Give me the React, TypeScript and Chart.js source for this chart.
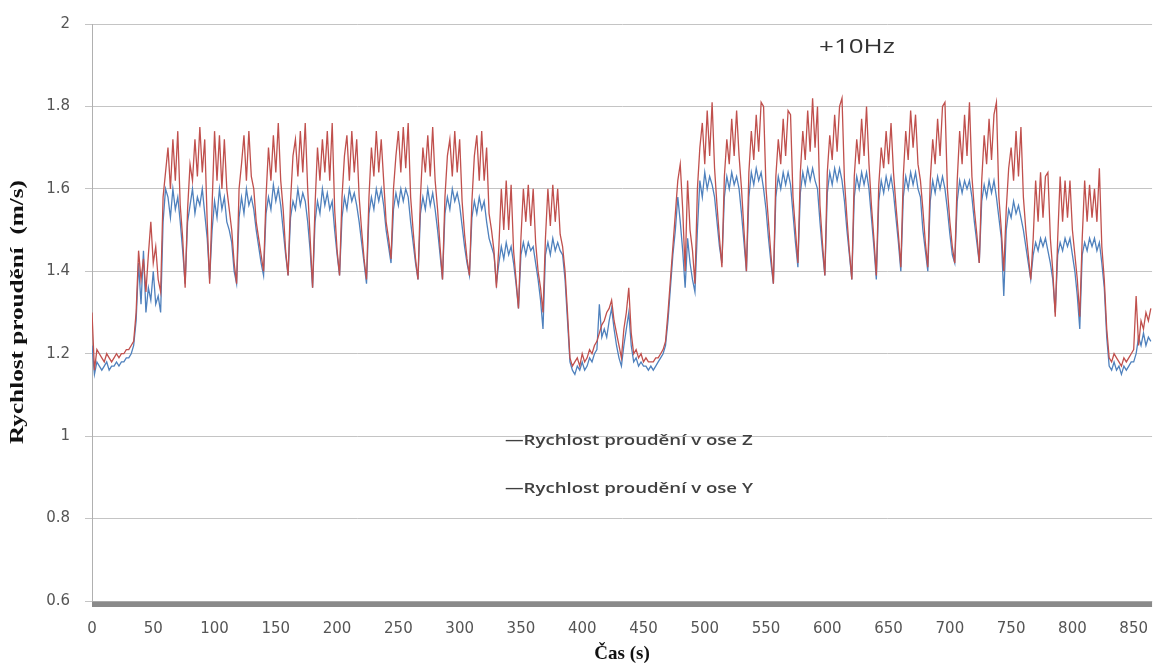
import React, { useEffect, useRef } from 'react';
import { Chart, registerables } from 'chart.js';

Chart.register(...registerables);

// sampling step of the recorded series (seconds)
const TIME_STEP = 2;

// Rychlost proudění v ose Z (m/s), one value every TIME_STEP seconds from 0 s
const Z_SPEED = [
  1.22, 1.15, 1.18, 1.17, 1.16, 1.17, 1.18, 1.16, 1.17, 1.17,
  1.18, 1.17, 1.18, 1.18, 1.19, 1.19, 1.20, 1.22, 1.28, 1.42,
  1.32, 1.45, 1.30, 1.36, 1.33, 1.40, 1.32, 1.34, 1.30, 1.52,
  1.60, 1.58, 1.53, 1.60, 1.55, 1.58, 1.52, 1.45, 1.37, 1.52,
  1.56, 1.60, 1.54, 1.58, 1.56, 1.60, 1.54, 1.48, 1.38, 1.50,
  1.57, 1.53, 1.60, 1.55, 1.58, 1.52, 1.50, 1.47, 1.40, 1.37,
  1.53, 1.58, 1.54, 1.60, 1.56, 1.58, 1.55, 1.50, 1.46, 1.42,
  1.39, 1.54, 1.58, 1.55, 1.61, 1.57, 1.60, 1.56, 1.50, 1.44,
  1.39, 1.53, 1.57, 1.55, 1.60, 1.56, 1.59, 1.57, 1.52, 1.45,
  1.36, 1.52, 1.57, 1.54, 1.60, 1.56, 1.59, 1.55, 1.57, 1.50,
  1.44, 1.39, 1.53, 1.58, 1.55, 1.60, 1.57, 1.59, 1.56, 1.52,
  1.47, 1.42, 1.37, 1.54, 1.58, 1.55, 1.60, 1.57, 1.60, 1.56,
  1.50, 1.46, 1.42, 1.55, 1.59, 1.56, 1.60, 1.57, 1.60, 1.58,
  1.52, 1.47, 1.42, 1.38, 1.54, 1.58, 1.55, 1.60, 1.56, 1.59,
  1.55, 1.50, 1.44, 1.38, 1.54, 1.58, 1.55, 1.60, 1.57, 1.59,
  1.56, 1.51, 1.46, 1.42, 1.39, 1.53, 1.57, 1.54, 1.58, 1.55,
  1.57, 1.52, 1.48, 1.46, 1.44, 1.37, 1.42, 1.46, 1.43, 1.47,
  1.44, 1.46, 1.42, 1.37, 1.31, 1.44, 1.47, 1.44, 1.47, 1.45,
  1.46, 1.42, 1.38, 1.33, 1.26, 1.44, 1.47, 1.44, 1.48, 1.45,
  1.47, 1.45, 1.44, 1.38, 1.28, 1.18, 1.16, 1.15, 1.17, 1.16,
  1.18, 1.16, 1.17, 1.19, 1.18, 1.20, 1.21, 1.32, 1.24, 1.26,
  1.24, 1.28, 1.31, 1.26, 1.22, 1.19, 1.17, 1.22, 1.26, 1.30,
  1.22, 1.18, 1.19, 1.17, 1.18, 1.17, 1.17, 1.16, 1.17, 1.16,
  1.17, 1.18, 1.19, 1.20, 1.22, 1.28, 1.36, 1.44, 1.50, 1.58,
  1.52, 1.45, 1.36, 1.48, 1.42, 1.38, 1.35, 1.50, 1.62, 1.58,
  1.64, 1.60, 1.63, 1.61, 1.58, 1.52, 1.46, 1.42, 1.58, 1.63,
  1.60, 1.64, 1.61, 1.63, 1.60, 1.54, 1.47, 1.40, 1.58, 1.64,
  1.61, 1.65, 1.62, 1.64, 1.60, 1.55, 1.48, 1.42, 1.37, 1.58,
  1.63, 1.60, 1.64, 1.61, 1.64, 1.61, 1.54, 1.47, 1.41, 1.59,
  1.64, 1.61, 1.65, 1.62, 1.65, 1.62, 1.60, 1.52, 1.45, 1.39,
  1.59, 1.64, 1.61, 1.65, 1.62, 1.65, 1.62, 1.57, 1.50, 1.44,
  1.38, 1.58, 1.63, 1.60, 1.64, 1.61, 1.64, 1.60, 1.53, 1.46,
  1.38, 1.57, 1.62, 1.59, 1.63, 1.60, 1.63, 1.59, 1.53, 1.47,
  1.40, 1.58, 1.63, 1.60, 1.64, 1.61, 1.64, 1.60, 1.58, 1.50,
  1.45, 1.40, 1.57, 1.62, 1.59, 1.63, 1.60, 1.63, 1.60, 1.55,
  1.49, 1.44, 1.42, 1.57, 1.62, 1.59, 1.62, 1.60, 1.62, 1.58,
  1.52, 1.47, 1.42, 1.57, 1.61, 1.58, 1.62, 1.59, 1.62, 1.58,
  1.53, 1.48, 1.34, 1.50, 1.55, 1.53, 1.57, 1.54, 1.56, 1.53,
  1.50, 1.46, 1.42, 1.38, 1.44, 1.47, 1.45, 1.48, 1.46, 1.48,
  1.45, 1.42, 1.38, 1.30, 1.44, 1.47, 1.45, 1.48, 1.46, 1.48,
  1.44, 1.40, 1.34, 1.26, 1.44, 1.47, 1.45, 1.48, 1.46, 1.48,
  1.45, 1.47, 1.42, 1.36, 1.24, 1.17, 1.16, 1.18, 1.16, 1.17,
  1.15, 1.17, 1.16, 1.17, 1.18, 1.18, 1.20, 1.24, 1.22, 1.25,
  1.22, 1.24, 1.23,
];

// Rychlost proudění v ose Y (m/s), one value every TIME_STEP seconds from 0 s
const Y_SPEED = [
  1.30, 1.16, 1.21, 1.20, 1.19, 1.18, 1.20, 1.19, 1.18, 1.19,
  1.20, 1.19, 1.20, 1.20, 1.21, 1.21, 1.22, 1.23, 1.30, 1.45,
  1.38, 1.43, 1.35, 1.44, 1.52, 1.42, 1.46, 1.38, 1.35, 1.58,
  1.64, 1.70, 1.60, 1.72, 1.62, 1.74, 1.56, 1.48, 1.36, 1.55,
  1.66, 1.62, 1.72, 1.63, 1.75, 1.64, 1.72, 1.52, 1.37, 1.56,
  1.74, 1.62, 1.73, 1.60, 1.72, 1.60, 1.55, 1.50, 1.42, 1.37,
  1.60, 1.66, 1.73, 1.62, 1.74, 1.63, 1.60, 1.52, 1.48, 1.44,
  1.40, 1.58, 1.70, 1.62, 1.73, 1.64, 1.76, 1.62, 1.55, 1.45,
  1.39, 1.57, 1.68, 1.72, 1.63, 1.74, 1.64, 1.76, 1.60, 1.48,
  1.36, 1.56, 1.70, 1.62, 1.72, 1.64, 1.74, 1.62, 1.76, 1.55,
  1.45, 1.39, 1.58, 1.68, 1.73, 1.62, 1.74, 1.64, 1.72, 1.58,
  1.50, 1.43, 1.38, 1.58, 1.70, 1.63, 1.74, 1.64, 1.72, 1.62,
  1.52, 1.48, 1.43, 1.60, 1.68, 1.74, 1.64, 1.75, 1.65, 1.76,
  1.58, 1.50, 1.43, 1.38, 1.58, 1.70, 1.64, 1.73, 1.63, 1.75,
  1.62, 1.55, 1.46, 1.38, 1.58, 1.68, 1.72, 1.63, 1.74, 1.64,
  1.72, 1.57, 1.49, 1.43, 1.39, 1.57, 1.68, 1.73, 1.62, 1.74,
  1.62, 1.70, 1.54, 1.50, 1.45, 1.36, 1.46, 1.60, 1.50, 1.62,
  1.50, 1.61, 1.45, 1.38, 1.31, 1.48, 1.60, 1.52, 1.61, 1.51,
  1.60, 1.47, 1.40, 1.36, 1.30, 1.48, 1.60, 1.51, 1.61, 1.52,
  1.60, 1.49, 1.46, 1.40, 1.30, 1.19, 1.17, 1.18, 1.19, 1.17,
  1.20, 1.18, 1.19, 1.21, 1.20, 1.22, 1.23, 1.25, 1.27, 1.28,
  1.30, 1.31, 1.33, 1.28, 1.25, 1.22, 1.19, 1.26, 1.30, 1.36,
  1.25, 1.20, 1.21, 1.19, 1.20, 1.18, 1.19, 1.18, 1.18, 1.18,
  1.19, 1.19, 1.20, 1.21, 1.23, 1.30, 1.38, 1.46, 1.54, 1.62,
  1.66, 1.55, 1.40, 1.62, 1.50, 1.45, 1.37, 1.60, 1.70, 1.76,
  1.66, 1.79, 1.68, 1.81, 1.65, 1.56, 1.48, 1.41, 1.63, 1.72,
  1.66, 1.77, 1.68, 1.79, 1.68, 1.60, 1.50, 1.40, 1.64, 1.74,
  1.67, 1.78, 1.69, 1.81, 1.80, 1.60, 1.52, 1.44, 1.37, 1.63,
  1.72, 1.66, 1.77, 1.68, 1.79, 1.78, 1.58, 1.50, 1.42, 1.64,
  1.74, 1.67, 1.79, 1.69, 1.82, 1.70, 1.80, 1.56, 1.47, 1.39,
  1.64, 1.73, 1.67, 1.78, 1.69, 1.80, 1.82, 1.62, 1.53, 1.45,
  1.38, 1.63, 1.72, 1.66, 1.77, 1.68, 1.80, 1.66, 1.56, 1.48,
  1.39, 1.61, 1.70, 1.65, 1.74, 1.66, 1.76, 1.64, 1.56, 1.49,
  1.41, 1.63, 1.74, 1.67, 1.79, 1.70, 1.78, 1.66, 1.62, 1.55,
  1.47, 1.41, 1.62, 1.72, 1.66, 1.77, 1.68, 1.80, 1.81, 1.60,
  1.52, 1.46, 1.42, 1.62, 1.74, 1.66, 1.78, 1.68, 1.81, 1.63,
  1.55, 1.49, 1.42, 1.62, 1.73, 1.66, 1.77, 1.67, 1.78, 1.81,
  1.58, 1.50, 1.40, 1.55, 1.65, 1.70, 1.62, 1.74, 1.63, 1.75,
  1.58, 1.50, 1.44, 1.38, 1.48, 1.62, 1.52, 1.64, 1.53, 1.63,
  1.64, 1.48, 1.40, 1.29, 1.48, 1.63, 1.52, 1.62, 1.53, 1.62,
  1.50, 1.44, 1.38, 1.29, 1.48, 1.62, 1.52, 1.61, 1.53, 1.60,
  1.52, 1.65, 1.46, 1.38, 1.26, 1.19, 1.18, 1.20, 1.19, 1.18,
  1.17, 1.19, 1.18, 1.19, 1.20, 1.21, 1.34, 1.22, 1.28, 1.26,
  1.30, 1.28, 1.31,
];

const X_TICKS = [0, 50, 100, 150, 200, 250, 300, 350, 400, 450, 500, 550, 600, 650, 700, 750, 800, 850];
const Y_TICKS = [0.6, 0.8, 1, 1.2, 1.4, 1.6, 1.8, 2];
const X_MIN = 0;
const X_MAX = 865;
const Y_MIN = 0.6;
const Y_MAX = 2;

const SERIES_NAMES = ['Rychlost proudění v ose Z', 'Rychlost proudění v ose Y'];
const X_TITLE = 'Čas (s)';
const Y_TITLE = 'Rychlost proudění  (m/s)';
const NOTE = '+10Hz';

const toPoints = (vals: number[]) => vals.map((v, i) => ({ x: i * TIME_STEP, y: v }));

const drawStretched = (ctx: CanvasRenderingContext2D, text: string, x: number, y: number, sx: number, rot: number) => {
  ctx.save();
  ctx.translate(x, y);
  if (rot) ctx.rotate(rot);
  ctx.scale(sx, 1);
  ctx.fillText(text, 0, 0);
  ctx.restore();
};

const overlayPlugin = {
  id: 'overlayText',
  afterDraw(chart: any) {
    const { ctx, chartArea } = chart;
    ctx.save();

    // thick bottom axis bar
    ctx.fillStyle = '#8a8a8a';
    ctx.fillRect(chartArea.left, chartArea.bottom, chartArea.right - chartArea.left, 6);
    ctx.fillStyle = '#a8a8a8';
    ctx.fillRect(chartArea.left, chartArea.bottom, chartArea.right - chartArea.left, 1);

    ctx.textBaseline = 'middle';
    ctx.textAlign = 'center';

    ctx.fillStyle = '#333333';
    ctx.font = '20px "Open Sans"';
    drawStretched(ctx, NOTE, 857, 47, 1.3, 0);

    // y axis title
    ctx.fillStyle = '#111111';
    ctx.font = 'bold 18px "Liberation Serif"';
    drawStretched(ctx, Y_TITLE, 18, 312, 1.4, -Math.PI / 2);

    ctx.textAlign = 'left';
    ctx.fillStyle = '#404040';
    ctx.font = '600 15px "Open Sans"';
    drawStretched(ctx, '\u2014' + SERIES_NAMES[0], 505, 441, 1.24, 0);
    drawStretched(ctx, '\u2014' + SERIES_NAMES[1], 505, 489, 1.24, 0);
    ctx.restore();
  },
};

export default function App() {
  const ref = useRef<HTMLCanvasElement | null>(null);

  useEffect(() => {
    if (!ref.current) return;
    const chart = new Chart(ref.current, {
      type: 'line',
      data: {
        datasets: [
          {
            label: SERIES_NAMES[1],
            data: toPoints(Y_SPEED),
            borderColor: '#C0504D',
            borderWidth: 1.3,
            pointRadius: 0,
            tension: 0,
            fill: false,
          },
          {
            label: SERIES_NAMES[0],
            data: toPoints(Z_SPEED),
            borderColor: '#4F81BD',
            borderWidth: 1.3,
            pointRadius: 0,
            tension: 0,
            fill: false,
          },
        ],
      },
      options: {
        responsive: false,
        animation: false,
        devicePixelRatio: 1,
        layout: { padding: { top: 20, left: 0, right: 0, bottom: 0 } },
        plugins: {
          legend: { display: false },
          tooltip: { enabled: false },
          title: { display: false },
        },
        scales: {
          x: {
            type: 'linear',
            min: X_MIN,
            max: X_MAX,
            afterBuildTicks: (scale: any) => {
              scale.ticks = X_TICKS.map((v) => ({ value: v }));
            },
            afterFit: (scale: any) => {
              scale.height = 64;
            },
            grid: { display: false, drawTicks: false },
            border: { display: false },
            ticks: {
              padding: 19,
              color: '#555555',
              font: { family: '"DejaVu Sans"', size: 15 },
              maxRotation: 0,
              autoSkip: false,
              callback: (v: any) => String(v),
            },
            title: {
              display: true,
              text: X_TITLE,
              color: '#111111',
              font: { family: '"Liberation Serif"', size: 19, weight: 'bold' },
              padding: { top: 0, bottom: 0 },
            },
          },
          y: {
            type: 'linear',
            min: Y_MIN,
            max: Y_MAX,
            afterBuildTicks: (scale: any) => {
              scale.ticks = Y_TICKS.map((v) => ({ value: v }));
            },
            afterFit: (scale: any) => {
              scale.width = 92;
            },
            grid: { color: '#c4c4c4', lineWidth: 1, tickLength: 7, drawTicks: true },
            border: { display: true, color: '#b0b0b0', width: 1 },
            ticks: {
              padding: 15,
              color: '#555555',
              font: { family: '"DejaVu Sans"', size: 15 },
              autoSkip: false,
              callback: (v: any) => String(v),
            },
            title: { display: false },
          },
        },
      },
      plugins: [overlayPlugin],
    } as any);
    return () => chart.destroy();
  }, []);

  return (
    <div style={{ position: 'fixed', left: 0, top: 0, width: 1167, height: 665, background: '#ffffff' }}>
      <canvas ref={ref} width={1167} height={665} style={{ width: 1167, height: 665, display: 'block' }} />
    </div>
  );
}
